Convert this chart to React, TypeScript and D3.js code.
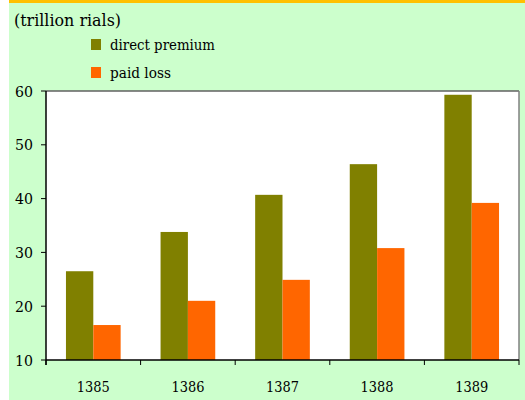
import React from "react";
import * as d3 from "d3";

const categories = ["1385", "1386", "1387", "1388", "1389"];
const directPremium = [26.5, 33.8, 40.7, 46.4, 59.3];
const paidLoss = [16.5, 21.0, 24.9, 30.8, 39.2];
const seriesNames = ["direct premium", "paid loss"];
const seriesColors = ["#808000", "#FF6600"];
const yTicks = [10, 20, 30, 40, 50, 60];

export default function App() {
  const W = 525, H = 400;
  const left = 46, right = 519, top = 91, bottom = 360;
  const x = d3.scaleBand<string>().domain(categories).range([left, right]).paddingInner(0).paddingOuter(0);
  const y = d3.scaleLinear().domain([10, 60]).range([bottom, top]);
  const bw = x.bandwidth();
  const barW = bw * 0.289;
  const series = [directPremium, paidLoss];
  const font = "'DejaVu Serif', serif";
  const tickXs = [...categories.map((c) => x(c)!), right];
  const ts = { fontFamily: font };
  return (
    <svg width={W} height={H} style={{ position: "absolute", left: 0, top: 0, fontFamily: font }}>
      <rect x={0} y={0} width={W} height={H} fill="#fff" />
      <rect x={9} y={0} width={W - 9} height={H} fill="#CCFFCC" />
      <rect x={9} y={0} width={W - 9} height={3} fill="#FFC000" />
      <text x={14} y={26} fontSize={16} fill="#000" style={ts} textLength={107} lengthAdjust="spacingAndGlyphs">(trillion rials)</text>
      {seriesNames.map((n, i) => (
        <g key={n}>
          <rect x={91} y={39 + i * 28} width={10} height={11} fill={seriesColors[i]} />
          <text x={110} y={50 + i * 27.5} fontSize={14} fill="#000" style={ts}
            textLength={i === 0 ? 105 : 61} lengthAdjust="spacingAndGlyphs">{n}</text>
        </g>
      ))}
      <rect x={left} y={top} width={right - left} height={bottom - top} fill="#fff" />
      {series.map((vals, si) =>
        categories.map((c, ci) => {
          const cx = x(c)! + bw / 2;
          const bx = cx - barW + si * barW;
          return (
            <rect key={c + si} x={bx} y={y(vals[ci])} width={barW} height={bottom - y(vals[ci])} fill={seriesColors[si]} />
          );
        })
      )}
      <line x1={left} x2={right} y1={top} y2={top} stroke="#606060" strokeWidth={1.5} />
      <line x1={right} x2={right} y1={top} y2={bottom} stroke="#808080" strokeWidth={1.5} />
      <line x1={left} x2={left} y1={top} y2={bottom + 5} stroke="#000" strokeWidth={1.5} />
      <line x1={left} x2={right} y1={bottom} y2={bottom} stroke="#000" strokeWidth={1.5} />
      {yTicks.map((t) => (
        <g key={t}>
          <line x1={left - 5} x2={left} y1={y(t)} y2={y(t)} stroke="#000" strokeWidth={1} />
          <text x={33} y={y(t) + 5.5} textAnchor="end" fontSize={15} fill="#000" style={ts}
            textLength={18} lengthAdjust="spacingAndGlyphs">{t}</text>
        </g>
      ))}
      {tickXs.map((tx, i) => (
        <line key={i} x1={tx} x2={tx} y1={bottom} y2={bottom + 5} stroke="#000" strokeWidth={1} />
      ))}
      {categories.map((c) => (
        <text key={c} x={x(c)! + bw / 2} y={392} textAnchor="middle" fontSize={15} fill="#000" style={ts}
          textLength={33} lengthAdjust="spacingAndGlyphs">{c}</text>
      ))}
    </svg>
  );
}
